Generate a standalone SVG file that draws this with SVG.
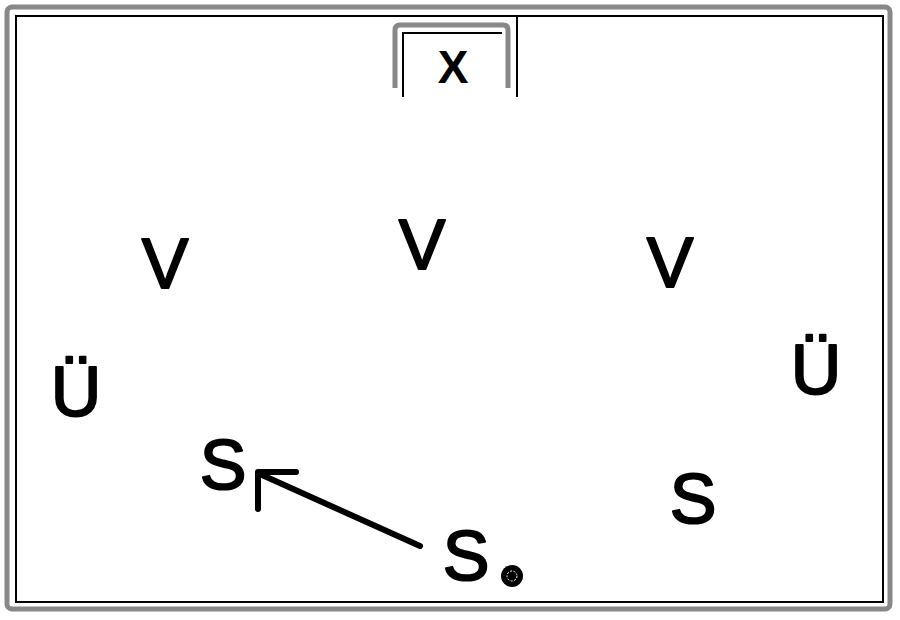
<svg xmlns="http://www.w3.org/2000/svg" width="900" height="620" viewBox="0 0 900 620">
  <style>
    .lbl { font-family: "Liberation Sans", Arial, sans-serif; font-size: 70px; fill: #000; stroke: #000; stroke-width: 2; stroke-linejoin: round; text-anchor: middle; }
    .x { font-family: "Liberation Sans", Arial, sans-serif; font-size: 46px; font-weight: bold; fill: #000; text-anchor: middle; }
    .frame { fill: none; stroke: #888; stroke-width: 5; }
    .inner { fill: none; stroke: #000; stroke-width: 2; }
    .conn { fill: none; stroke: #000; stroke-width: 6; stroke-linecap: round; stroke-linejoin: round; }
  </style>
  <rect width="900" height="620" fill="#fff"/>
  <g id="field">
    <rect class="frame" x="7" y="7" width="883" height="602" rx="5"/>
    <rect class="inner" x="16" y="16" width="867" height="586"/>
  </g>
  <g id="goal">
    <path d="M395,88 V30 Q395,25 400,25 H503 Q508,25 508,30 V88" fill="none" stroke="#888" stroke-width="5"/>
    <path d="M403,97 V33 H502" fill="none" stroke="#000" stroke-width="2"/>
    <path d="M517,15 V97" fill="none" stroke="#000" stroke-width="2"/>
    <text class="x" x="453" y="83">X</text>
  </g>
  <g id="v1"><text class="lbl" x="165" y="288">V</text></g>
  <g id="v2"><text class="lbl" x="422" y="269">V</text></g>
  <g id="v3"><text class="lbl" x="670" y="287">V</text></g>
  <g id="u1"><text class="lbl" x="76" y="416">Ü</text></g>
  <g id="u2"><text class="lbl" x="816" y="394">Ü</text></g>
  <g id="s1"><text class="lbl" x="223" y="489">S</text></g>
  <g id="s2"><text class="lbl" x="693" y="523">S</text></g>
  <g id="s3"><text class="lbl" x="466" y="580">S</text></g>
  <g id="ball">
    <circle cx="512" cy="576" r="11" fill="#000"/>
    <circle cx="512" cy="576" r="5" fill="none" stroke="#fff" stroke-width="1" stroke-dasharray="2 1.5"/>
  </g>
  <g id="connectors">
    <line class="conn" x1="420" y1="546" x2="262" y2="475"/>
    <polyline class="conn" points="296,472 258,472 258,509"/>
  </g>
</svg>
